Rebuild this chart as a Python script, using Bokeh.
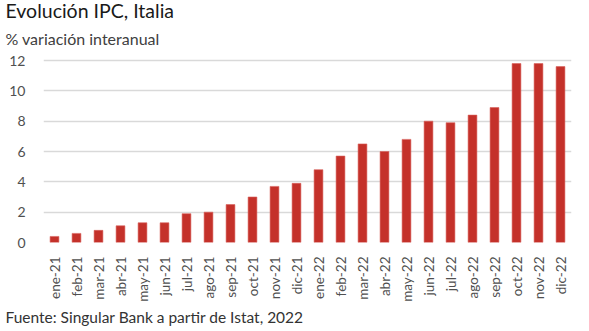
from bokeh.plotting import figure
from bokeh.models import Title, FixedTicker, Range1d, FactorRange
from bokeh.embed import file_html
from bokeh.resources import INLINE
import math

months = ["ene-21", "feb-21", "mar-21", "abr-21", "may-21", "jun-21", "jul-21", "ago-21",
          "sep-21", "oct-21", "nov-21", "dic-21", "ene-22", "feb-22", "mar-22", "abr-22",
          "may-22", "jun-22", "jul-22", "ago-22", "sep-22", "oct-22", "nov-22", "dic-22"]
ipc = [0.4, 0.6, 0.8, 1.1, 1.3, 1.3, 1.9, 2.0, 2.5, 3.0, 3.7, 3.9,
       4.8, 5.7, 6.5, 6.0, 6.8, 8.0, 7.9, 8.4, 8.9, 11.8, 11.8, 11.6]
y_ticks = [0, 2, 4, 6, 8, 10, 12]

FONT = "Lato"

p = figure(x_range=FactorRange(*months, range_padding=0), y_range=Range1d(0, 12.2),
           frame_width=528, frame_height=185, output_backend="svg", toolbar_location=None,
           min_border_left=43, min_border_right=18, min_border_top=57, min_border_bottom=89,
           outline_line_color=None)

p.vbar(x=months, top=ipc, width=0.4, fill_color="#C4312A", line_color="#D8605A", line_width=0.6)

p.title.text = "Evolución IPC, Italia"
p.title.text_font = FONT
p.title.text_font_style = "normal"
p.title.text_font_size = "19.5px"
p.title.text_color = "#1a1a1a"
p.title.align = "left"
p.title.offset = -38
p.title.standoff = -11
sub = Title(text="% variación interanual", text_font=FONT, text_font_style="normal",
            text_font_size="16px", text_color="#404040", align="left", offset=-38,
            standoff=20)
p.add_layout(sub, "above")

foot = Title(text="Fuente: Singular Bank a partir de Istat, 2022", text_font=FONT,
             text_font_style="normal", text_font_size="15.5px", text_color="#333333",
             align="left", offset=-38, standoff=2)
p.add_layout(foot, "below")

p.yaxis.ticker = FixedTicker(ticks=y_ticks)
p.yaxis.axis_line_color = None
p.yaxis.major_tick_line_color = None
p.yaxis.minor_tick_line_color = None
p.yaxis.major_label_text_font = FONT
p.yaxis.major_label_text_font_size = "14px"
p.yaxis.major_label_text_color = "#505050"
p.yaxis.major_label_standoff = 12

p.xaxis.axis_line_color = None
p.xaxis.major_tick_line_color = None
p.xaxis.major_label_orientation = math.pi / 2
p.xaxis.major_label_text_font = FONT
p.xaxis.major_label_text_font_size = "13.5px"
p.xaxis.major_label_text_color = "#505050"
p.xaxis.major_label_standoff = 8

p.xgrid.grid_line_color = None
p.ygrid.grid_line_color = "#D9D9D9"
p.ygrid.grid_line_width = 1.5
p.ygrid.ticker = FixedTicker(ticks=y_ticks)

open("out.html", "w").write(file_html(p, INLINE))
